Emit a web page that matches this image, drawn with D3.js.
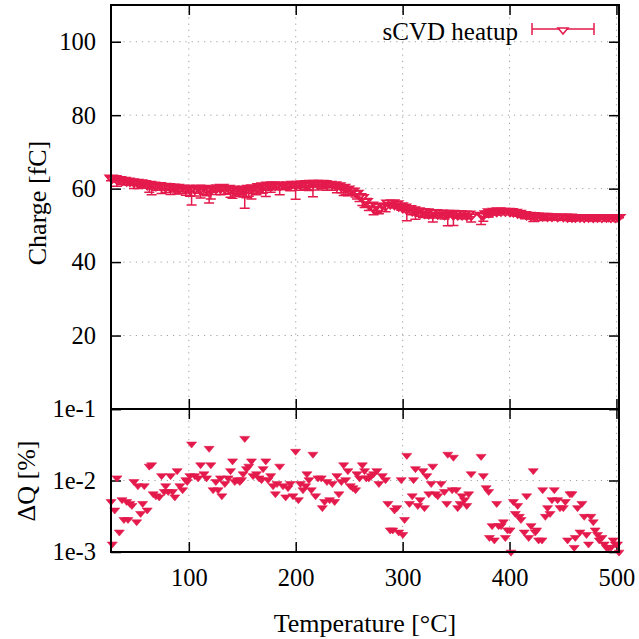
<!DOCTYPE html>
<html>
<head>
<meta charset="utf-8">
<script src="https://cdn.jsdelivr.net/npm/d3@7"></script>
<style>
body { margin: 0; background: #fff; }
svg { display: block; }
</style>
</head>
<body>
<script>
const temps = [
    27.2, 28.4, 30.7, 32.8, 35.0, 37.5, 39.3, 41.9, 43.1, 44.9,
    46.8, 48.7, 51.2, 52.4, 54.9, 56.8, 58.3, 61.1, 63.0, 65.2,
    66.7, 69.2, 72.3, 74.5, 77.0, 78.3, 80.7, 82.9, 84.8, 86.9,
    89.1, 91.6, 94.2, 97.2, 98.5, 101.0, 102.6, 105.6, 108.7, 111.0,
    114.1, 116.6, 119.0, 120.6, 122.7, 125.3, 127.4, 129.6, 130.9, 133.7,
    136.7, 139.0, 140.9, 143.0, 145.2, 147.7, 149.3, 150.8, 152.3, 153.9,
    156.1, 158.6, 160.1, 163.3, 165.7, 168.0, 169.5, 172.0, 174.1, 176.6,
    178.8, 181.0, 182.5, 185.0, 188.1, 190.6, 192.8, 195.0, 197.4, 199.9,
    202.5, 204.4, 206.8, 209.3, 210.5, 212.4, 214.6, 216.1, 218.6, 220.8,
    223.9, 224.9, 227.0, 229.2, 231.7, 234.2, 236.4, 238.5, 240.4, 242.7,
    244.8, 246.7, 248.8, 251.1, 253.5, 256.0, 257.3, 259.7, 262.3, 264.4,
    266.0, 268.4, 270.7, 272.8, 275.9, 277.8, 281.0, 284.0, 286.2, 288.4,
    290.8, 292.4, 294.6, 296.4, 298.7, 300.2, 301.8, 303.9, 306.4, 309.0,
    310.2, 312.0, 314.2, 316.4, 318.9, 320.4, 322.6, 324.5, 326.7, 328.2,
    330.7, 332.9, 336.0, 339.1, 341.3, 342.2, 346.3, 347.5, 350.1, 351.5,
    353.8, 355.6, 357.8, 360.0, 361.8, 364.1, 373.4, 375.5, 378.1, 380.5,
    381.2, 383.7, 385.8, 388.0, 389.8, 392.1, 394.2, 396.1, 398.2, 400.5,
    401.4, 403.6, 405.4, 407.6, 409.2, 410.7, 413.8, 416.0, 417.9, 420.1,
    422.2, 424.1, 425.3, 427.2, 430.4, 431.0, 433.5, 435.6, 437.9, 439.7,
    441.9, 445.0, 447.2, 450.3, 452.2, 454.3, 456.5, 458.4, 460.5, 461.5,
    463.6, 465.9, 467.7, 469.9, 472.0, 473.9, 476.1, 478.3, 480.1, 482.3,
    483.9, 486.4, 488.6, 490.7, 492.6, 494.8, 497.0, 498.9, 501.0, 502.4
];

const charge = [
    62.9, 62.5, 62.8, 62.2, 62.5, 61.9, 62.3, 61.7, 62.1, 61.6,
    61.9, 61.4, 61.8, 61.2, 61.6, 61.1, 61.4, 60.7, 61.2, 60.6,
    61.0, 60.4, 60.9, 60.3, 60.7, 60.1, 60.6, 60.0, 60.5, 59.9,
    60.4, 59.8, 60.2, 59.6, 60.1, 59.5, 59.9, 59.6, 60.2, 59.7,
    60.1, 59.5, 59.9, 59.4, 60.0, 59.7, 60.3, 59.8, 60.4, 59.7,
    60.1, 59.5, 59.9, 59.3, 59.8, 59.2, 59.7, 59.4, 59.9, 59.5,
    60.1, 59.7, 60.3, 60.0, 60.6, 60.2, 60.8, 60.4, 61.0, 60.6,
    61.1, 60.6, 61.0, 60.5, 60.9, 60.6, 61.1, 60.7, 61.2, 60.6,
    61.2, 60.8, 61.3, 60.8, 61.4, 60.9, 61.5, 61.0, 61.5, 61.1,
    61.5, 61.0, 61.4, 60.9, 61.2, 60.8, 61.1, 60.5, 60.8, 60.2,
    60.4, 59.8, 59.9, 59.3, 59.4, 58.7, 58.8, 57.9, 57.6, 56.6,
    56.5, 55.4, 55.6, 54.4, 55.2, 54.3, 55.3, 55.0, 56.1, 55.5,
    56.2, 55.3, 55.9, 54.9, 55.4, 54.4, 55.0, 54.0, 54.6, 53.6,
    54.3, 53.4, 54.0, 53.1, 53.8, 52.9, 53.7, 52.8, 53.5, 52.8,
    53.5, 52.7, 53.4, 52.6, 53.3, 52.7, 53.3, 52.5, 53.2, 52.5,
    53.2, 52.5, 53.1, 52.4, 53.1, 52.4, 52.8, 52.5, 53.2, 53.1,
    53.7, 53.3, 53.9, 53.4, 54.0, 53.5, 53.9, 53.5, 53.9, 53.4,
    53.8, 53.3, 53.6, 53.0, 53.3, 52.8, 53.0, 52.5, 52.8, 52.3,
    52.7, 52.2, 52.6, 52.1, 52.5, 52.2, 52.5, 52.1, 52.4, 52.1,
    52.4, 52.0, 52.3, 52.0, 52.3, 51.9, 52.3, 51.9, 52.2, 51.9,
    52.2, 51.9, 52.2, 51.8, 52.2, 51.9, 52.1, 51.8, 52.1, 51.9,
    52.1, 51.8, 52.1, 51.9, 52.0, 51.8, 52.1, 51.8, 52.0, 52.2
];

const deltaQ = [
    0.0050, 0.00127, 0.0038, 0.0107, 0.00187, 0.0053, 0.0028, 0.0050, 0.0028, 0.0047,
    0.0044, 0.0095, 0.0026, 0.0083, 0.0034, 0.0047, 0.0083, 0.0038, 0.0156, 0.0163,
    0.0064, 0.0060, 0.0058, 0.0115, 0.0069, 0.0083, 0.0069, 0.0115, 0.0069, 0.0058,
    0.0135, 0.0083, 0.0073, 0.0101, 0.0095, 0.0115, 0.0318, 0.0115, 0.0107, 0.0163,
    0.0122, 0.0107, 0.0277, 0.0163, 0.0073, 0.0095, 0.0073, 0.0107, 0.0060, 0.0089,
    0.0107, 0.0135, 0.0185, 0.0095, 0.0101, 0.0095, 0.0101, 0.0122, 0.0382, 0.0144,
    0.0156, 0.0185, 0.0115, 0.0122, 0.0107, 0.0101, 0.0144, 0.0185, 0.0101, 0.0115,
    0.0083, 0.0064, 0.0089, 0.0156, 0.0083, 0.0058, 0.0078, 0.0089, 0.0060, 0.0252,
    0.0053, 0.0089, 0.0073, 0.0083, 0.0122, 0.0101, 0.0073, 0.0229, 0.0060, 0.0107,
    0.0107, 0.0041, 0.0050, 0.0095, 0.0053, 0.0089, 0.0050, 0.0115, 0.0064, 0.0095,
    0.0163, 0.0101, 0.0135, 0.0083, 0.0078, 0.0073, 0.0122, 0.0107, 0.0163, 0.0135,
    0.0107, 0.0107, 0.0115, 0.0122, 0.0135, 0.0089, 0.0115, 0.0101, 0.0047, 0.0020,
    0.0020, 0.0038, 0.0041, 0.00187, 0.0101, 0.00173, 0.0028, 0.0221, 0.0047, 0.0060,
    0.0101, 0.0144, 0.0044, 0.0053, 0.0135, 0.0041, 0.0115, 0.0064, 0.0089, 0.0156,
    0.0064, 0.0060, 0.0089, 0.0069, 0.0047, 0.0229, 0.0073, 0.0208, 0.0073, 0.0041,
    0.0047, 0.0060, 0.0053, 0.0044, 0.0064, 0.0122, 0.0214, 0.0115, 0.0078, 0.0069,
    0.00157, 0.0023, 0.00145, 0.0047, 0.0023, 0.0023, 0.0026, 0.00157, 0.0020, 0.0020,
    0.00098, 0.0050, 0.0034, 0.0044, 0.0031, 0.0028, 0.00187, 0.0060, 0.00157, 0.0023,
    0.0135, 0.00187, 0.0020, 0.00145, 0.00145, 0.0073, 0.0031, 0.0041, 0.0034, 0.0053,
    0.0073, 0.0053, 0.0041, 0.0041, 0.0050, 0.00145, 0.0064, 0.0064, 0.00114, 0.00157,
    0.0041, 0.00187, 0.0047, 0.0031, 0.00173, 0.00127, 0.0031, 0.0026, 0.0020, 0.00173,
    0.00145, 0.00157, 0.00127, 0.00114, 0.00114, 0.00114, 0.00145, 0.00127, 0.00127, 0.00098
];

const tempTicks = [100, 200, 300, 400, 500];
const chargeTicks = [0, 20, 40, 60, 80, 100];
const dqTicks = [1e-3, 1e-2, 1e-1];
const dqTickLabels = ['1e-3', '1e-2', '1e-1'];
const seriesName = 'sCVD heatup';

// error bar length in fC taken from the relative deviation
const errScale = 2.3;

const data = temps.map((t, i) => ({t: t, q: charge[i], dq: deltaQ[i]}));

const color = '#e41a4c';
const font = "'Liberation Serif', 'Times New Roman', serif";
const xLeft = 111, xRight = 619, yTop = 5, yMid = 409, yBottom = 552;

const svg = d3.select('body').append('svg')
    .attr('width', 639)
    .attr('height', 639)
    .style('font-family', font);

const x = d3.scaleLinear().domain([27.2, 502.4]).range([xLeft, xRight]);
const yQ = d3.scaleLinear().domain([0, 110]).range([yMid, yTop]);
const yD = d3.scaleLog().domain([1e-3, 1e-1]).range([yBottom, yMid]);

const triangle = (cx, cy, w = 5) =>
    `M${cx - w},${cy - 2.5}L${cx + w},${cy - 2.5}L${cx},${cy + 3.5}Z`;

// grid
const grid = svg.append('g')
    .attr('stroke', '#a0a0a0')
    .attr('stroke-width', 1)
    .attr('stroke-dasharray', '1.2,5');

grid.selectAll('.vx')
    .data(tempTicks)
    .enter()
    .append('line')
    .attr('x1', d => x(d)).attr('x2', d => x(d))
    .attr('y1', yTop).attr('y2', yBottom);

grid.selectAll('.hq')
    .data(chargeTicks.filter(d => d > 0))
    .enter()
    .append('line')
    .attr('x1', xLeft).attr('x2', xRight)
    .attr('y1', d => yQ(d)).attr('y2', d => yQ(d));

grid.append('line')
    .attr('x1', xLeft).attr('x2', xRight)
    .attr('y1', yD(1e-2)).attr('y2', yD(1e-2));

// axes with inward ticks
const styleAxis = g => {
    g.attr('font-family', font);
    g.select('.domain').remove();
    g.selectAll('.tick line').attr('stroke', '#000').attr('stroke-width', 1.5);
    g.selectAll('text').style('font-family', font).attr('font-size', 24.5).attr('fill', '#000');
};

svg.append('g')
    .attr('transform', `translate(${xLeft},0)`)
    .call(d3.axisLeft(yQ).tickValues(chargeTicks).tickSize(-10).tickPadding(15)
        .tickFormat(d => d === 0 ? '' : d))
    .call(styleAxis);

svg.append('g')
    .attr('transform', `translate(${xRight},0)`)
    .call(d3.axisRight(yQ).tickValues(chargeTicks).tickSize(-10).tickFormat(''))
    .call(styleAxis);

svg.append('g')
    .attr('transform', `translate(0,${yTop})`)
    .call(d3.axisTop(x).tickValues(tempTicks).tickSize(-10).tickFormat(''))
    .call(styleAxis);

svg.append('g')
    .attr('transform', `translate(0,${yMid})`)
    .call(d3.axisBottom(x).tickValues(tempTicks).tickSize(-10).tickFormat(''))
    .call(styleAxis);

svg.append('g')
    .attr('transform', `translate(0,${yMid})`)
    .call(d3.axisTop(x).tickValues(tempTicks).tickSize(-10).tickFormat(''))
    .call(styleAxis);

svg.append('g')
    .attr('transform', `translate(0,${yBottom})`)
    .call(d3.axisBottom(x).tickValues(tempTicks).tickSize(-10).tickPadding(17))
    .call(styleAxis);

svg.append('g')
    .attr('transform', `translate(${xLeft},0)`)
    .call(d3.axisLeft(yD).tickValues(dqTicks).tickSize(-10).tickPadding(15)
        .tickFormat((d, i) => dqTickLabels[i]))
    .call(styleAxis);

svg.append('g')
    .attr('transform', `translate(${xRight},0)`)
    .call(d3.axisRight(yD).tickValues(dqTicks).tickSize(-10).tickFormat(''))
    .call(styleAxis);

// upper panel: charge with error bars
const errs = svg.append('g')
    .attr('stroke', color)
    .attr('stroke-width', 1.5)
    .attr('fill', 'none');

errs.selectAll('.bar')
    .data(data)
    .enter()
    .append('path')
    .attr('d', d => {
        const y0 = yQ(d.q), y1 = yQ(d.q - d.q * d.dq * errScale);
        const cx = x(d.t);
        return `M${cx},${y0}L${cx},${y1}M${cx - 5},${y1}L${cx + 5},${y1}`;
    });

svg.append('g')
    .selectAll('path')
    .data(data)
    .enter()
    .append('path')
    .attr('d', d => triangle(x(d.t), yQ(d.q), 5.5))
    .attr('fill', 'none')
    .attr('stroke', color)
    .attr('stroke-width', 1.8);

// lower panel: deltaQ
svg.append('g')
    .selectAll('path')
    .data(data)
    .enter()
    .append('path')
    .attr('d', d => triangle(x(d.t), yD(d.dq)))
    .attr('fill', color)
    .attr('stroke', color)
    .attr('stroke-width', 0.6);

// frames
svg.append('rect')
    .attr('x', xLeft).attr('y', yTop)
    .attr('width', xRight - xLeft).attr('height', yBottom - yTop)
    .attr('fill', 'none')
    .attr('stroke', '#000')
    .attr('stroke-width', 2);

svg.append('line')
    .attr('x1', xLeft).attr('x2', xRight)
    .attr('y1', yMid).attr('y2', yMid)
    .attr('stroke', '#000')
    .attr('stroke-width', 2);

// legend
const legend = svg.append('g');
legend.append('text')
    .attr('x', 518)
    .attr('y', 39.5)
    .attr('text-anchor', 'end')
    .attr('font-size', 25)
    .text(seriesName);
legend.append('path')
    .attr('d', 'M532,29L594,29M532,23L532,35M594,23L594,35')
    .attr('stroke', color)
    .attr('stroke-width', 1.5)
    .attr('fill', 'none');
legend.append('path')
    .attr('d', triangle(563, 30.5))
    .attr('fill', '#fff')
    .attr('stroke', color)
    .attr('stroke-width', 1.5);

// axis titles
svg.append('text')
    .attr('transform', 'translate(46,203) rotate(-90)')
    .attr('text-anchor', 'middle')
    .attr('font-size', 26)
    .text('Charge [fC]');

svg.append('text')
    .attr('transform', 'translate(35,481) rotate(-90)')
    .attr('text-anchor', 'middle')
    .attr('font-size', 26)
    .text('ΔQ [%]');

svg.append('text')
    .attr('x', (xLeft + xRight) / 2)
    .attr('y', 632)
    .attr('text-anchor', 'middle')
    .attr('font-size', 26)
    .text('Temperature [°C]');
</script>
</body>
</html>
